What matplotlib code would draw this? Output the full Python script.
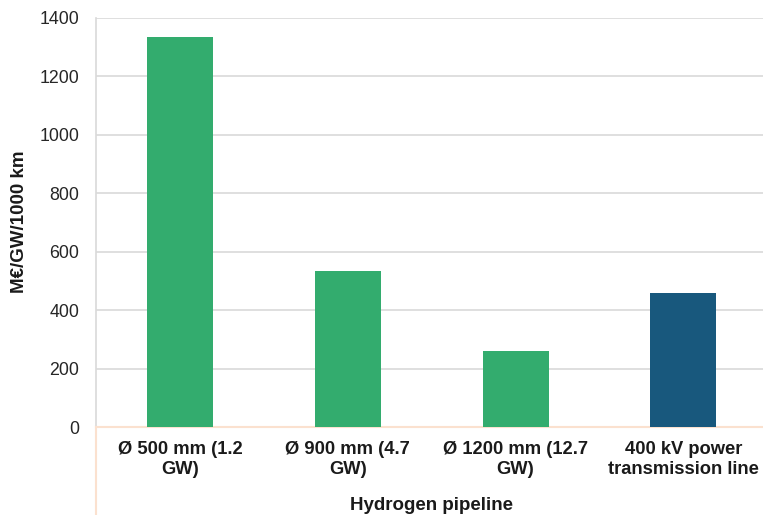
import matplotlib.pyplot as plt
from matplotlib.lines import Line2D

plt.rcParams['font.family'] = ['Liberation Sans', 'DejaVu Sans']

categories = ["Ø 500 mm (1.2\nGW)", "Ø 900 mm (4.7\nGW)", "Ø 1200 mm (12.7\nGW)", "400 kV power\ntransmission line"]
values = [1335, 534, 260, 459]
colors = ["#33AC6E", "#33AC6E", "#33AC6E", "#18587D"]
yticks = [0, 200, 400, 600, 800, 1000, 1200, 1400]

fig = plt.figure(figsize=(7.63, 5.15), dpi=100)
W, H = 763, 515
ax = fig.add_axes([96 / W, 1 - 427 / H, (763 - 96) / W, (427 - 18) / H])

x = list(range(len(categories)))
ax.bar(x, values, width=0.393, color=colors, zorder=3)

ax.set_xlim(-0.5, 3.474)
ax.set_ylim(0, 1400)
ax.set_yticks(yticks)
ax.set_yticklabels([str(t) for t in yticks], fontsize=12.8, color="#262626")
ax.yaxis.grid(True, color="#D9D9D9", linewidth=1.2, zorder=0)
ax.tick_params(axis='y', length=0, pad=12)

ax.set_xticks(x)
ax.set_xticklabels(categories, fontsize=13.2, fontweight='bold', color="#1a1a1a", linespacing=1.25)
ax.tick_params(axis='x', length=0, pad=10)

for s in ['top', 'right']:
    ax.spines[s].set_visible(False)
ax.spines['left'].set_color("#D9D9D9")
ax.spines['left'].set_linewidth(1.2)
ax.spines['bottom'].set_color("#FBE1CF")
ax.spines['bottom'].set_linewidth(1.5)

# vertical divider under the category axis
fig.add_artist(Line2D([96 / W, 96 / W], [0, 1 - 427 / H], color="#FBE1CF", linewidth=1.5))

fig.text(20 / W, 1 - 222 / H, "M€/GW/1000 km", ha='center', va='center', rotation=90,
         fontsize=13.5, fontweight='bold', color="#1a1a1a")
fig.text(432 / W, 1 - 505 / H, "Hydrogen pipeline", ha='center', va='center',
         fontsize=13.5, fontweight='bold', color="#1a1a1a")

fig.savefig("out.png", dpi=100)
